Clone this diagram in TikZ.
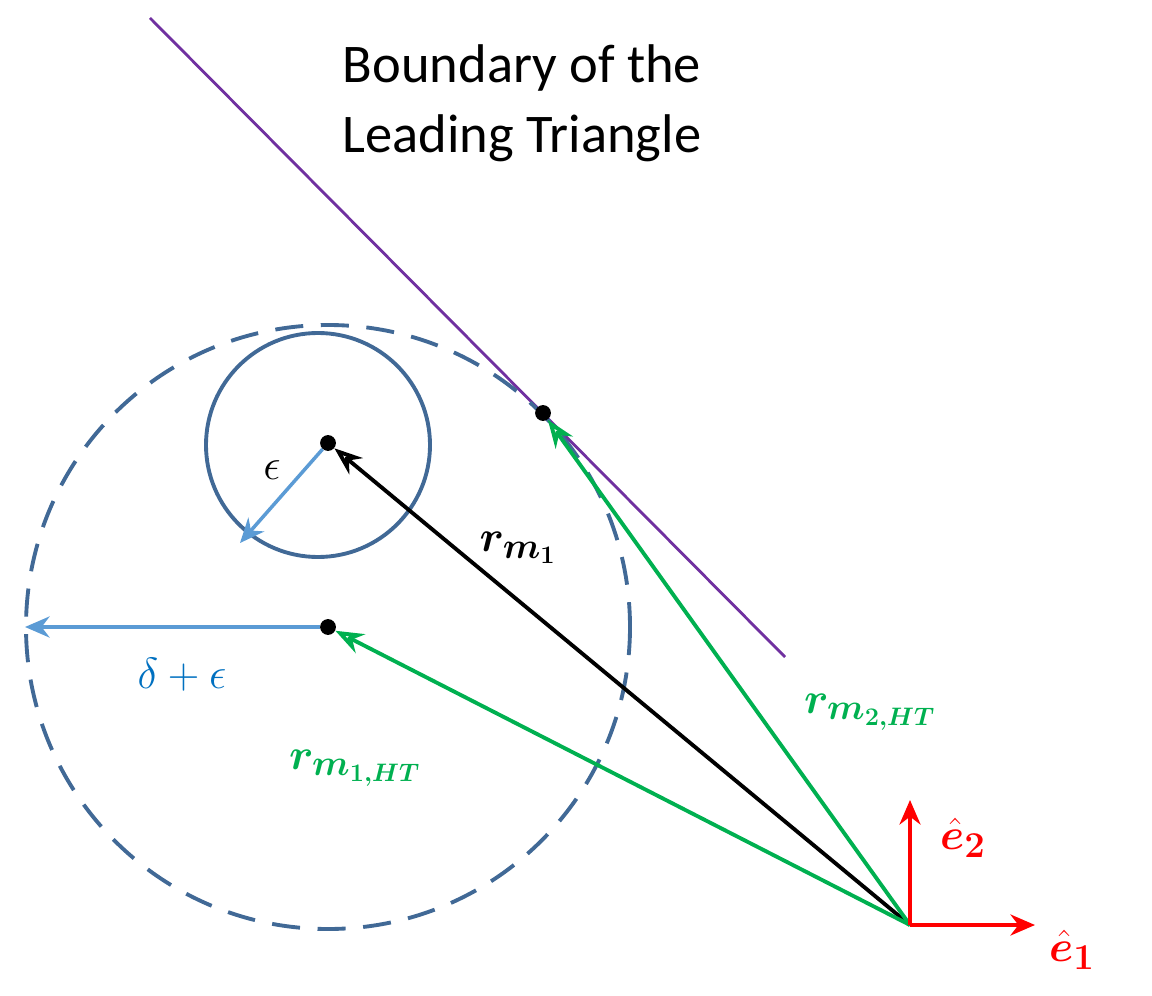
\documentclass[tikz,border=0pt]{standalone}
\usepackage{fontspec}
\usepackage{amsmath,bm}
\setmainfont{Carlito}
\usetikzlibrary{arrows.meta}
\definecolor{purp}{RGB}{112,48,160}
\definecolor{circ}{RGB}{65,105,150}
\definecolor{lblue}{RGB}{91,155,213}
\definecolor{dblue}{RGB}{0,112,192}
\definecolor{grn}{RGB}{0,176,80}
\definecolor{rd}{RGB}{255,0,0}
\begin{document}
\begin{tikzpicture}[x=0.02cm,y=-0.02cm,
  vec/.style={line width=2.2pt,-{Stealth[length=16pt,width=12pt,open]}},
  vecf/.style={line width=2pt,-{Stealth[length=14pt,width=12pt]}},
  dot/.style={circle,fill=black,inner sep=0pt,minimum size=9pt},
  lbl/.style={font=\fontsize{30}{34}\selectfont}]
\useasboundingbox (0,0) rectangle (1152,996);
\draw[purp,line width=1.6pt] (150,18) -- (785,657);
\node[font=\fontsize{31}{40}\selectfont,align=center] (title) at (522,103) {Boundary of the\\Leading Triangle};
\draw[circ,line width=2.2pt,dash pattern=on 16pt off 10pt] (328,627) circle (302);
\draw[circ,line width=2.2pt] (318,445) circle (112);
\node[dot] (c1) at (328,443) {};
\node[dot] (c2) at (328,627) {};
\node[dot] (p) at (543,413) {};
\coordinate (O) at (910,925);
\coordinate (e1) at (1035,925);
\coordinate (e2) at (910,800);
\coordinate (eps) at (240,543);
\coordinate (left) at (25,627);
\draw[lblue,line width=2pt,-{Stealth[length=14pt,width=12pt]}] (c1) -- (eps);
\draw[lblue,line width=2pt,-{Stealth[length=14pt,width=12pt]}] (c2) -- (left);
\draw[vec,black] (O) -- (c1);
\draw[vec,grn] (O) -- (c2);
\draw[vec,grn] (O) -- (p);
\draw[vecf,rd] (O) -- (e1);
\draw[vecf,rd] (O) -- (e2);
\node[lbl] (leps) at (272,470) {$\epsilon$};
\node[lbl] (lr) at (518,548) {$\bm{r}_{\bm{m_1}}$};
\node[lbl,dblue] (lde) at (182,675) {$\delta+\epsilon$};
\node[lbl,grn] (lr1) at (355,768) {$\bm{r}_{\bm{m_{1,HT}}}$};
\node[lbl,grn] (lr2) at (870,712) {$\bm{r}_{\bm{m_{2,HT}}}$};
\node[lbl,rd] (le2) at (963,838) {$\hat{\bm{e}}_{\bm{2}}$};
\node[lbl,rd] (le1) at (1072,950) {$\hat{\bm{e}}_{\bm{1}}$};
\end{tikzpicture}
\end{document}
